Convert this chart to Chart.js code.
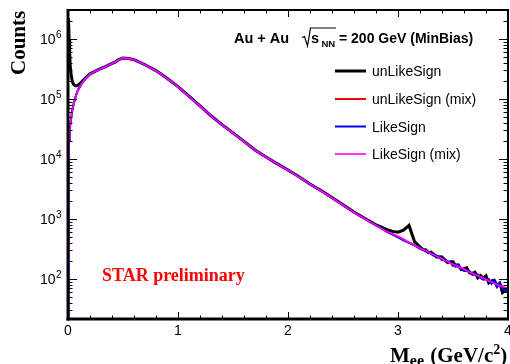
<!DOCTYPE html>
<html>
<head>
<meta charset="utf-8">
<script src="https://cdn.jsdelivr.net/npm/chart.js@4"></script>
<style>
  html, body { margin: 0; padding: 0; background: #fff; }
  canvas { display: block; }
</style>
</head>
<body>
<canvas id="massPlot" width="510" height="364"></canvas>
<script>
// dielectron invariant mass, Au+Au 200 GeV
const mass = [0, 0.005, 0.01, 0.015, 0.02, 0.03, 0.04, 0.05, 0.07, 0.09, 0.12, 0.16,
  0.2, 0.25, 0.3, 0.35, 0.4, 0.43, 0.46, 0.5, 0.55, 0.6,
  0.7, 0.8, 0.9, 1.0, 1.1, 1.2, 1.3, 1.4, 1.5, 1.6, 1.7, 1.8, 1.9, 2.0, 2.1, 2.2, 2.3, 2.4, 2.5, 2.6, 2.7, 2.8,
  2.85, 2.9, 2.95, 3.0, 3.05, 3.1, 3.15,
  3.2, 3.225, 3.25, 3.275, 3.3, 3.325, 3.35, 3.375, 3.4, 3.425, 3.45, 3.475, 3.5, 3.525, 3.55, 3.575,
  3.6, 3.625, 3.65, 3.675, 3.7, 3.725, 3.75, 3.775, 3.8, 3.825, 3.85, 3.875, 3.9, 3.925, 3.95, 3.975, 4.0];

const unLikeSign = [2200000, 2000000, 1000000, 600000, 360000, 240000, 195000, 175000, 165000, 168000, 190000, 225000,
  262000, 292000, 322000, 352000, 392000, 412000, 452000, 482000, 472000, 452000,
  372000, 297000, 222000, 161000, 111000, 76500, 52500, 37300, 27200, 19600, 14100, 10800, 8350, 6550, 5050, 3830, 2980, 2270, 1720, 1310, 1020, 800,
  730, 665, 620, 600, 650, 780, 420,
  341, 310, 307, 274, 281, 257, 233, 234, 232, 205, 187, 194, 193, 164, 166, 144,
  148, 153, 126, 124, 130, 104, 114, 103, 113, 86, 93, 95, 77, 85, 59, 64, 69];

const unLikeSignMix = [16, 8000, 20000, 28000, 36000, 50000, 65000, 80000, 110000, 140000, 175000, 220000,
  260000, 290000, 320000, 350000, 390000, 410000, 450000, 480000, 470000, 450000,
  370000, 295000, 220000, 160000, 110000, 76000, 52000, 37000, 27000, 19500, 14000, 10700, 8300, 6500, 5000, 3800, 2950, 2250, 1700, 1290, 1000, 780,
  690, 615, 560, 510, 455, 405, 365,
  325, 310, 295, 280, 265, 252, 240, 227, 215, 205, 195, 185, 175, 167, 160, 152,
  145, 137, 130, 124, 118, 113, 108, 103, 98, 93, 89, 85, 81, 77, 74, 71, 68];

const likeSign = [16, 9000, 21000, 29000, 37000, 51000, 66000, 81000, 111000, 140000, 175000, 220000,
  260000, 290000, 320000, 350000, 390000, 410000, 450000, 480000, 470000, 450000,
  370000, 295000, 220000, 160000, 110000, 76000, 52000, 37000, 27000, 19500, 14000, 10700, 8300, 6500, 5000, 3800, 2950, 2250, 1700, 1290, 1000, 780,
  700, 610, 550, 495, 440, 400, 362,
  319, 310, 286, 286, 262, 244, 247, 225, 206, 217, 195, 191, 165, 175, 176, 147,
  136, 137, 135, 118, 118, 119, 104, 97, 100, 99, 83, 94, 73, 86, 70, 62, 65];

const likeSignMix = [16, 8500, 20500, 28500, 36500, 50500, 65500, 80500, 110000, 140000, 175000, 220000,
  260000, 290000, 320000, 350000, 390000, 410000, 450000, 480000, 470000, 450000,
  370000, 295000, 220000, 160000, 110000, 76000, 52000, 37000, 27000, 19500, 14000, 10700, 8300, 6500, 5000, 3800, 2950, 2250, 1700, 1290, 1000, 780,
  690, 615, 560, 510, 455, 405, 365,
  325, 310, 295, 280, 265, 252, 240, 227, 215, 205, 195, 185, 175, 167, 160, 152,
  145, 137, 130, 124, 118, 113, 108, 103, 98, 93, 89, 85, 81, 77, 74, 71, 68];

const seriesNames = ['unLikeSign', 'unLikeSign (mix)', 'LikeSign', 'LikeSign (mix)'];
const seriesColors = ['#000000', '#ff0000', '#0000ff', '#ff00ff'];
const seriesWidths = [3, 2, 2, 1.6];

const xTicks = [0, 1, 2, 3, 4];
const xTickLabels = ['0', '1', '2', '3', '4'];
const yDecades = [2, 3, 4, 5, 6];

const SANS = '"Liberation Sans", Arial, sans-serif';
const SERIF = '"Liberation Serif", "Times New Roman", serif';

function toPoints(ys) {
  return mass.map((m, i) => ({ x: m, y: ys[i] }));
}

// ROOT style frame, ticks on all four sides, labels, legend and captions
const rootDecor = {
  id: 'rootDecor',
  afterDraw(chart) {
    const ctx = chart.ctx;
    const xs = chart.scales.x;
    const ys = chart.scales.y;
    const a = chart.chartArea;
    ctx.save();

    // ticks
    ctx.strokeStyle = '#000';
    ctx.lineWidth = 1;
    ctx.beginPath();
    for (let i = 0; i <= 20; i++) {
      const v = i * 0.2;
      const px = Math.round(xs.getPixelForValue(v)) + 0.5;
      const len = i % 5 === 0 ? 7 : 3.5;
      ctx.moveTo(px, a.bottom); ctx.lineTo(px, a.bottom - len);
      ctx.moveTo(px, a.top); ctx.lineTo(px, a.top + len);
    }
    for (let e = 1; e <= 6; e++) {
      for (let k = 1; k <= 9; k++) {
        const v = k * Math.pow(10, e);
        if (v < ys.min || v > ys.max) continue;
        const py = Math.round(ys.getPixelForValue(v)) + 0.5;
        const len = k === 1 ? 9 : 4.5;
        ctx.moveTo(a.left, py); ctx.lineTo(a.left + len, py);
        ctx.moveTo(a.right, py); ctx.lineTo(a.right - len, py);
      }
    }
    ctx.stroke();

    // frame
    ctx.fillStyle = '#000';
    ctx.fillRect(a.left - 1.5, a.top - 1, 3, a.bottom - a.top + 2.5);
    ctx.fillRect(a.left - 1.5, a.bottom - 1.5, a.right - a.left + 2.5, 3);
    ctx.fillRect(a.left - 1, a.top - 1, a.right - a.left + 2, 2);
    ctx.fillRect(a.right - 1, a.top - 1, 2, a.bottom - a.top + 2);

    // x tick labels
    ctx.font = '14px ' + SANS;
    ctx.textAlign = 'center';
    ctx.textBaseline = 'alphabetic';
    xTicks.forEach((v, i) => {
      ctx.fillText(xTickLabels[i], xs.getPixelForValue(v), a.bottom + 16);
    });

    // y tick labels 10^n
    yDecades.forEach(e => {
      const py = ys.getPixelForValue(Math.pow(10, e));
      const xr = a.left - 12.5;
      ctx.font = '14px ' + SANS;
      ctx.textAlign = 'right';
      ctx.fillText('10', xr, py + 5);
      ctx.font = '10px ' + SANS;
      ctx.textAlign = 'left';
      ctx.fillText(String(e), xr + 0.5, py - 0.5);
    });

    // axis titles
    ctx.fillStyle = '#000';
    ctx.save();
    ctx.translate(25, 75);
    ctx.rotate(-Math.PI / 2);
    ctx.font = 'bold 21px ' + SERIF;
    ctx.textAlign = 'left';
    ctx.fillText('Counts', 0, 0);
    ctx.restore();

    ctx.textAlign = 'left';
    let x = 390;
    const xb = 361.5;
    ctx.font = 'bold 21px ' + SERIF;
    ctx.fillText('M', x, xb); x += ctx.measureText('M').width;
    ctx.font = 'bold 16px ' + SERIF;
    ctx.fillText('ee', x, xb + 4); x += ctx.measureText('ee').width + 1;
    ctx.font = 'bold 21px ' + SERIF;
    ctx.fillText(' (GeV/c', x, xb); x += ctx.measureText(' (GeV/c').width;
    ctx.font = 'bold 14px ' + SERIF;
    ctx.fillText('2', x, xb - 8); x += ctx.measureText('2').width;
    ctx.font = 'bold 21px ' + SERIF;
    ctx.fillText(')', x, xb);

    // system label
    const tb = 42.5;
    ctx.font = 'bold 14.5px ' + SANS;
    ctx.fillText('Au + Au', 234, tb);
    ctx.lineWidth = 1.2;
    ctx.beginPath();
    ctx.moveTo(302, 37.5); ctx.lineTo(304.5, 36.5); ctx.lineTo(307.5, 46);
    ctx.lineTo(310.5, 28); ctx.lineTo(336, 28);
    ctx.stroke();
    ctx.fillText('s', 311, tb);
    ctx.font = 'bold 9.5px ' + SANS;
    ctx.fillText('NN', 321.5, tb + 4);
    ctx.font = 'bold 14px ' + SANS;
    ctx.fillText('= 200 GeV (MinBias)', 339, tb);

    // legend
    const legY = [71, 99, 126.5, 154];
    ctx.font = '14px ' + SANS;
    chart.data.datasets.forEach((ds, i) => {
      ctx.strokeStyle = ds.borderColor;
      ctx.lineWidth = ds.borderWidth;
      ctx.beginPath();
      ctx.moveTo(335, legY[i]); ctx.lineTo(366, legY[i]);
      ctx.stroke();
      ctx.fillStyle = '#000';
      ctx.fillText(ds.label, 372, legY[i] + 5);
    });

    // preliminary tag
    ctx.fillStyle = '#ff0000';
    ctx.font = 'bold 18px ' + SERIF;
    ctx.fillText('STAR preliminary', 102, 281);

    ctx.restore();
  }
};

const datasets = [unLikeSign, unLikeSignMix, likeSign, likeSignMix].map((vals, i) => ({
  label: seriesNames[i],
  data: toPoints(vals),
  borderColor: seriesColors[i],
  borderWidth: seriesWidths[i],
  pointRadius: 0,
  tension: 0,
  fill: false,
  order: 3 - i
}));

const chart = new Chart(document.getElementById('massPlot').getContext('2d'), {
  type: 'line',
  data: { datasets: datasets },
  options: {
    responsive: false,
    animation: false,
    layout: { padding: { left: 68, right: 2, top: 10, bottom: 45 } },
    plugins: {
      legend: { display: false },
      tooltip: { enabled: false }
    },
    scales: {
      x: { type: 'linear', min: 0, max: 4, display: false },
      y: { type: 'logarithmic', min: 21.5, max: 3.04e6, display: false }
    }
  },
  plugins: [rootDecor]
});
</script>
</body>
</html>
